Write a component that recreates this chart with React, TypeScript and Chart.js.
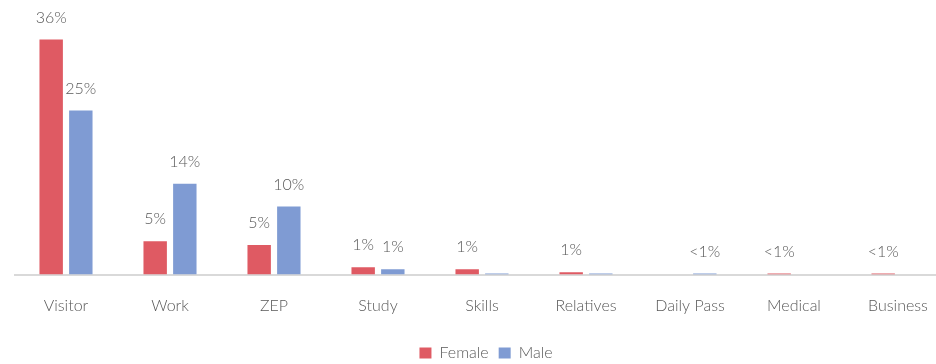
import React, { useEffect, useRef } from "react";
import { Chart, registerables } from "chart.js";

Chart.register(...registerables);

const categories = ["Visitor", "Work", "ZEP", "Study", "Skills", "Relatives", "Daily Pass", "Medical", "Business"];
const femaleValues = [36, 5.1, 4.5, 1.1, 0.8, 0.35, 0, 0.15, 0.15];
const maleValues = [25.1, 13.9, 10.4, 0.8, 0.15, 0.15, 0.15, 0, 0];
const femaleLabels = ["36%", "5%", "5%", "1%", "1%", "1%", "", "<1%", "<1%"];
const maleLabels = ["25%", "14%", "10%", "1%", "", "", "<1%", "", ""];

const FEMALE_COLOR = "#DF5A63";
const MALE_COLOR = "#7F9BD3";
const TEXT_COLOR = "#595959";
const FONT_FAMILY = "Lato, 'Open Sans', sans-serif";

const labelPlugin = {
  id: "barLabels",
  afterDatasetsDraw(chart: any) {
    const ctx = chart.ctx;
    const all = [femaleLabels, maleLabels];
    ctx.save();
    ctx.fillStyle = TEXT_COLOR;
    ctx.font = `300 16px ${FONT_FAMILY}`;
    ctx.textAlign = "center";
    ctx.textBaseline = "middle";
    chart.data.datasets.forEach((_: any, di: number) => {
      const meta = chart.getDatasetMeta(di);
      meta.data.forEach((el: any, i: number) => {
        const txt = all[di][i];
        if (txt) ctx.fillText(txt, el.x, el.y - 22);
      });
    });
    ctx.restore();
  },
};

export default function App() {
  const ref = useRef<HTMLCanvasElement>(null);
  useEffect(() => {
    if (!ref.current) return;
    const chart = new Chart(ref.current, {
      type: "bar",
      data: {
        labels: categories,
        datasets: [
          { label: "Female", data: femaleValues, backgroundColor: FEMALE_COLOR, borderWidth: 0 },
          { label: "Male", data: maleValues, backgroundColor: MALE_COLOR, borderWidth: 0 },
        ],
      },
      options: {
        animation: false,
        responsive: true,
        maintainAspectRatio: false,
        datasets: { bar: { categoryPercentage: 0.57, barPercentage: 0.79 } },
        layout: { padding: { top: 13.3, left: 0, right: 0, bottom: 0 } },
        plugins: {
          tooltip: { enabled: false },
          legend: {
            position: "bottom",
            labels: {
              boxWidth: 12,
              boxHeight: 11,
              padding: 10,
              color: TEXT_COLOR,
              font: { size: 16, family: FONT_FAMILY, weight: 300 },
            },
          },
        },
        scales: {
          x: {
            grid: { display: false, drawTicks: false },
            border: { display: true, color: "#D9D9D9", width: 2 },
            ticks: { color: TEXT_COLOR, padding: 22, font: { size: 16, family: FONT_FAMILY, weight: 300 } },
            afterFit: (axis: any) => {
              axis.height = 60.5;
            },
          },
          y: {
            position: "right",
            min: 0,
            max: 40,
            grid: { display: false },
            border: { display: false },
            ticks: { display: false },
            afterFit: (axis: any) => {
              axis.width = 8;
            },
          },
        },
      },
      plugins: [labelPlugin],
    });
    return () => chart.destroy();
  }, []);
  return (
    <div style={{ position: "fixed", left: 0, top: 0, width: 936, height: 364, overflow: "hidden", background: "#fff" }}>
      <div style={{ position: "absolute", left: 13.5, top: 0, width: 944, height: 371 }}>
        <canvas ref={ref} />
      </div>
    </div>
  );
}
